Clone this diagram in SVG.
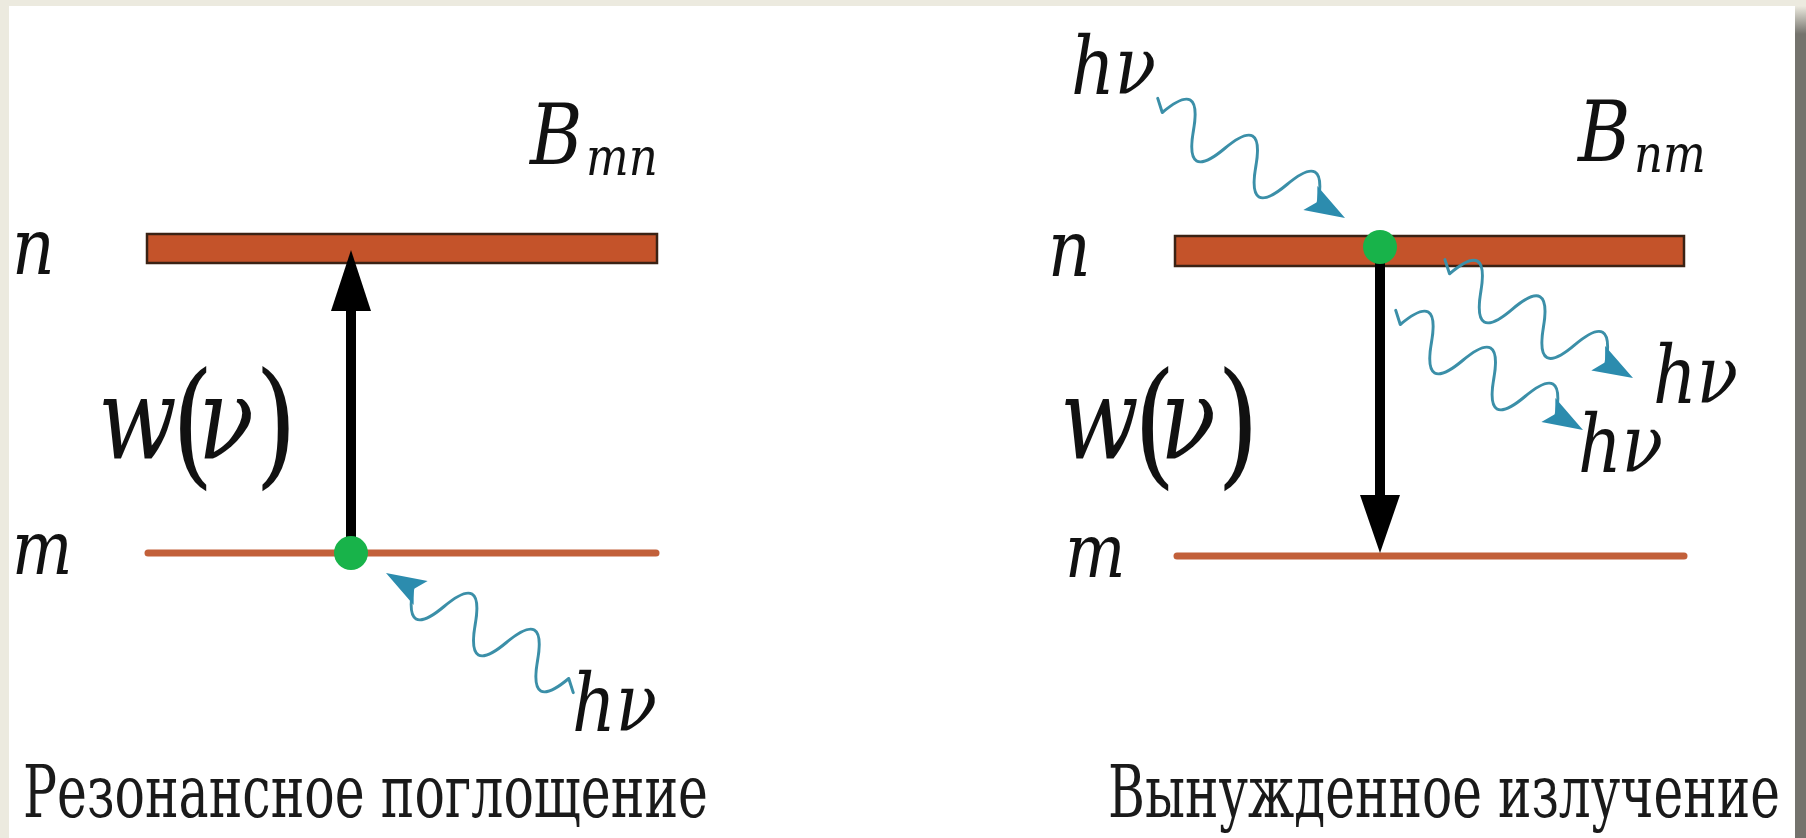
<svg xmlns="http://www.w3.org/2000/svg" width="1806" height="838" viewBox="0 0 1806 838">
<style>
text{font-family:"DejaVu Serif",serif}
.it{font-style:italic;fill:#111}
.up{font-style:normal}
.cap{fill:#1a1a1a;font-size:73px}
.bar{fill:#c4532a;stroke:#3a2214;stroke-width:2.5}
.low{stroke:#c2603a;stroke-width:7;stroke-linecap:round}
.dot{fill:#18b34a}
.wave{fill:none;stroke:#3b8fa8;stroke-width:3;stroke-linejoin:round;stroke-linecap:round}
.head{fill:#2c8cae}
.arr{stroke:#000;stroke-width:10}
</style>
<defs>
<linearGradient id="edge" x1="0" y1="0" x2="0" y2="1">
<stop offset="0" stop-color="#eceadf"/>
<stop offset="1" stop-color="#74736d"/>
</linearGradient>
<g id="photon">
<path class="wave" d="M-222,-10 L-211,0 c12,-33 24,-33 36,0 c12,33 24,33 36,0 c12,-33 24,-33 36,0 c12,33 24,33 36,0 c12,-33 24,-33 36,0"/>
<polygon class="head" points="0,0 -40,-14 -32,0 -40,14"/>
</g>
</defs>
<rect x="0" y="0" width="1806" height="838" fill="#ffffff"/>
<rect x="0" y="0" width="1806" height="6" fill="#eceadf"/>
<rect x="0" y="0" width="9" height="838" fill="#eceadf"/>
<rect x="1795" y="6" width="11" height="28" fill="url(#edge)"/>
<rect x="1795" y="34" width="11" height="804" fill="#74736d"/>

<g id="left-level-n">
<rect class="bar" x="147" y="234" width="510" height="29"/>
<text class="it" transform="translate(12,274) scale(0.85,1)" font-size="78">n</text>
</g>
<g id="left-level-m">
<line class="low" x1="148" y1="553" x2="656" y2="553"/>
<text class="it" transform="translate(12,574) scale(0.85,1)" font-size="75">m</text>
</g>
<g id="left-coef">
<text class="it" transform="translate(530,164) scale(0.85,1)" font-size="84">B<tspan x="66" dy="11" font-size="53">mn</tspan></text>
</g>
<g id="left-rate">
<text class="it" transform="translate(98,458) scale(0.8,1)" font-size="115">w<tspan class="up" x="92" y="12" font-size="136">(</tspan><tspan x="125" y="0">ν</tspan><tspan class="up" x="196" y="12" font-size="136">)</tspan></text>
</g>
<g id="left-photon-label">
<text class="it" transform="translate(572,731) scale(0.85,1)" font-size="80">hν</text>
</g>
<g id="left-caption">
<text class="cap" x="23" y="817" textLength="685" lengthAdjust="spacingAndGlyphs">Резонансное поглощение</text>
</g>

<g id="right-level-n">
<rect class="bar" x="1175" y="236" width="509" height="30"/>
<text class="it" transform="translate(1048,276) scale(0.85,1)" font-size="78">n</text>
</g>
<g id="right-level-m">
<line class="low" x1="1177" y1="556" x2="1684" y2="556"/>
<text class="it" transform="translate(1065,577) scale(0.85,1)" font-size="75">m</text>
</g>
<g id="right-coef">
<text class="it" transform="translate(1578,161) scale(0.85,1)" font-size="84">B<tspan x="66" dy="11" font-size="53">nm</tspan></text>
</g>
<g id="right-rate">
<text class="it" transform="translate(1060,458) scale(0.8,1)" font-size="115">w<tspan class="up" x="92" y="12" font-size="136">(</tspan><tspan x="125" y="0">ν</tspan><tspan class="up" x="196" y="12" font-size="136">)</tspan></text>
</g>
<g id="right-photon-labels">
<text class="it" transform="translate(1071,94) scale(0.85,1)" font-size="80">hν</text>
<text class="it" transform="translate(1653,403) scale(0.85,1)" font-size="80">hν</text>
<text class="it" transform="translate(1578,472) scale(0.85,1)" font-size="80">hν</text>
</g>
<g id="right-caption">
<text class="cap" x="1108" y="817" textLength="672" lengthAdjust="spacingAndGlyphs">Вынужденное излучение</text>
</g>

<g id="connectors">
<line class="arr" x1="351" y1="553" x2="351" y2="305"/>
<polygon points="351,250 331,311 371,311" fill="#000"/>
<line class="arr" x1="1380" y1="250" x2="1380" y2="500"/>
<polygon points="1380,553 1360,495 1400,495" fill="#000"/>
<use href="#photon" transform="translate(386,573) rotate(210)"/>
<use href="#photon" transform="translate(1345,218) rotate(30)"/>
<use href="#photon" transform="translate(1633,378) rotate(29.6)"/>
<use href="#photon" transform="translate(1583,430) rotate(30)"/>
</g>
<g id="left-atom"><circle class="dot" cx="351" cy="553" r="17"/></g>
<g id="right-atom"><circle class="dot" cx="1380" cy="247" r="17"/></g>
</svg>
